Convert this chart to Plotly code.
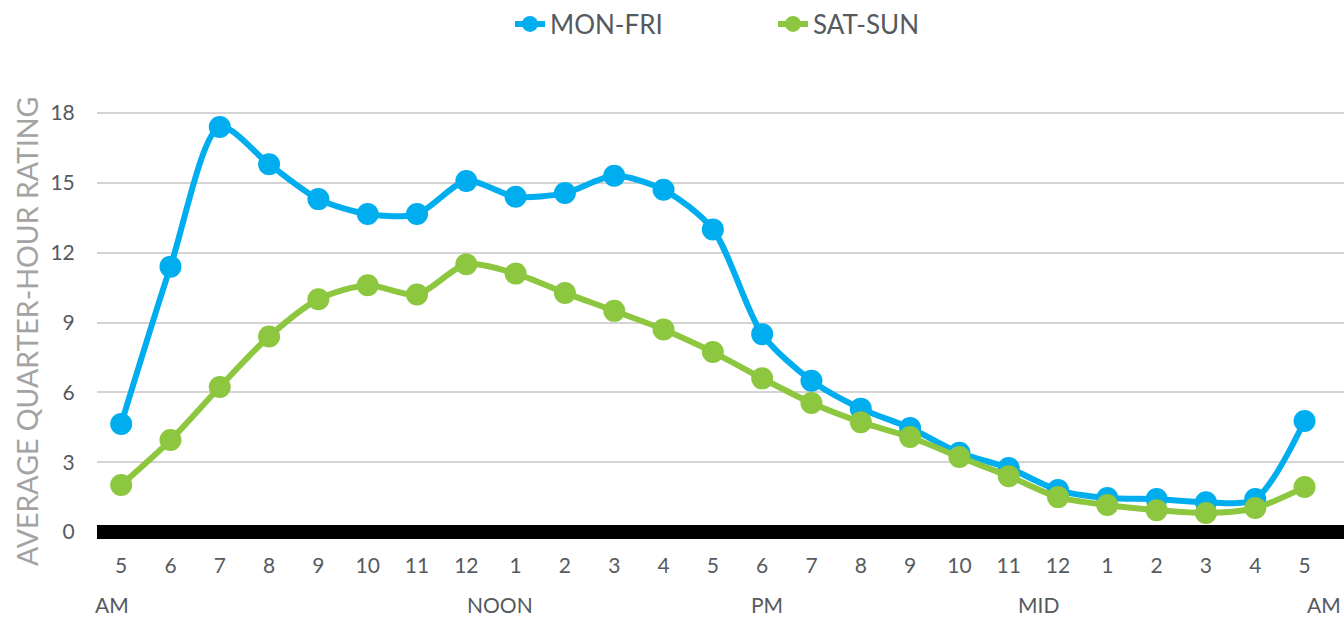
import plotly.graph_objects as go

hours = ["5", "6", "7", "8", "9", "10", "11", "12", "1", "2", "3", "4",
         "5", "6", "7", "8", "9", "10", "11", "12", "1", "2", "3", "4", "5"]
mon_fri = [4.64, 11.4, 17.4, 15.8, 14.3, 13.66, 13.66, 15.08, 14.4, 14.56, 15.3, 14.7,
           13.0, 8.5, 6.5, 5.3, 4.47, 3.4, 2.75, 1.8, 1.46, 1.42, 1.28, 1.42, 4.77]
sat_sun = [2.02, 3.95, 6.23, 8.4, 10.0, 10.6, 10.2, 11.5, 11.1, 10.27, 9.5, 8.7,
           7.73, 6.6, 5.54, 4.72, 4.08, 3.22, 2.4, 1.5, 1.16, 0.94, 0.82, 1.03, 1.93]
period_labels = ["AM", "NOON", "PM", "MID", "AM"]
period_pos = [-0.18, 7.69, 13.1, 18.6, 24.4]

x_idx = list(range(len(hours)))
BLUE = "#00AEEF"
GREEN = "#8DC63F"
FONT = "Lato, 'Open Sans', sans-serif"
TXT = "#555a60"

W, H = 1344, 619
L, R, T, B = 97, 0, 106, 80
PW, PH = W - L - R, H - T - B

fig = go.Figure()
fig.add_trace(go.Scatter(x=x_idx, y=mon_fri, name="MON-FRI", mode="lines+markers",
                         line=dict(color=BLUE, width=6, shape="spline", smoothing=0.8),
                         marker=dict(color=BLUE, size=22)))
fig.add_trace(go.Scatter(x=x_idx, y=sat_sun, name="SAT-SUN", mode="lines+markers",
                         line=dict(color=GREEN, width=6, shape="spline", smoothing=0.8),
                         marker=dict(color=GREEN, size=22)))

for lab, pos in zip(period_labels, period_pos):
    fig.add_annotation(x=pos, y=0, xref="x", yref="paper", text=lab, showarrow=False,
                       yanchor="middle", yshift=-(604 - (H - B)),
                       font=dict(size=21, color=TXT, family=FONT))

fig.add_annotation(x=(8 - L) / PW, y=((H - B) - 332) / PH, xref="paper", yref="paper",
                   text="AVERAGE QUARTER-HOUR RATING", showarrow=False, textangle=-90,
                   font=dict(size=28.5, color="#a3a3a3", family=FONT))

fig.update_layout(
    width=W, height=H,
    margin=dict(l=L, r=R, t=T, b=B, autoexpand=False),
    plot_bgcolor="white", paper_bgcolor="white",
    font=dict(family=FONT, color=TXT),
    showlegend=True,
    legend=dict(orientation="h", xref="container", yref="container",
                x=510 / W, xanchor="left", y=1 - 24 / H, yanchor="middle",
                font=dict(size=26, color=TXT), entrywidth=218, traceorder="normal"),
    xaxis=dict(range=[-0.49, 24.8], tickmode="array", tickvals=x_idx, ticktext=hours,
               showgrid=False, zeroline=False, showline=False, automargin=False,
               tickfont=dict(size=21, color=TXT), ticks="outside", ticklen=8,
               tickcolor="rgba(0,0,0,0)"),
    yaxis=dict(range=[-0.3, 18.3], tickvals=[0, 3, 6, 9, 12, 15, 18], automargin=False,
               showgrid=True, gridcolor="#d4d4d4", gridwidth=1.5,
               zeroline=True, zerolinecolor="black", zerolinewidth=14,
               tickfont=dict(size=21, color=TXT), ticks="outside", ticklen=17,
               tickcolor="rgba(0,0,0,0)"),
)

fig.write_html("out.html", config={"displayModeBar": False})

with open("out.html", "r", encoding="utf-8") as f:
    html = f.read()
html = html.replace("<head>", "<head><style>html,body{margin:0;padding:0;overflow:hidden;}</style>", 1)
with open("out.html", "w", encoding="utf-8") as f:
    f.write(html)
